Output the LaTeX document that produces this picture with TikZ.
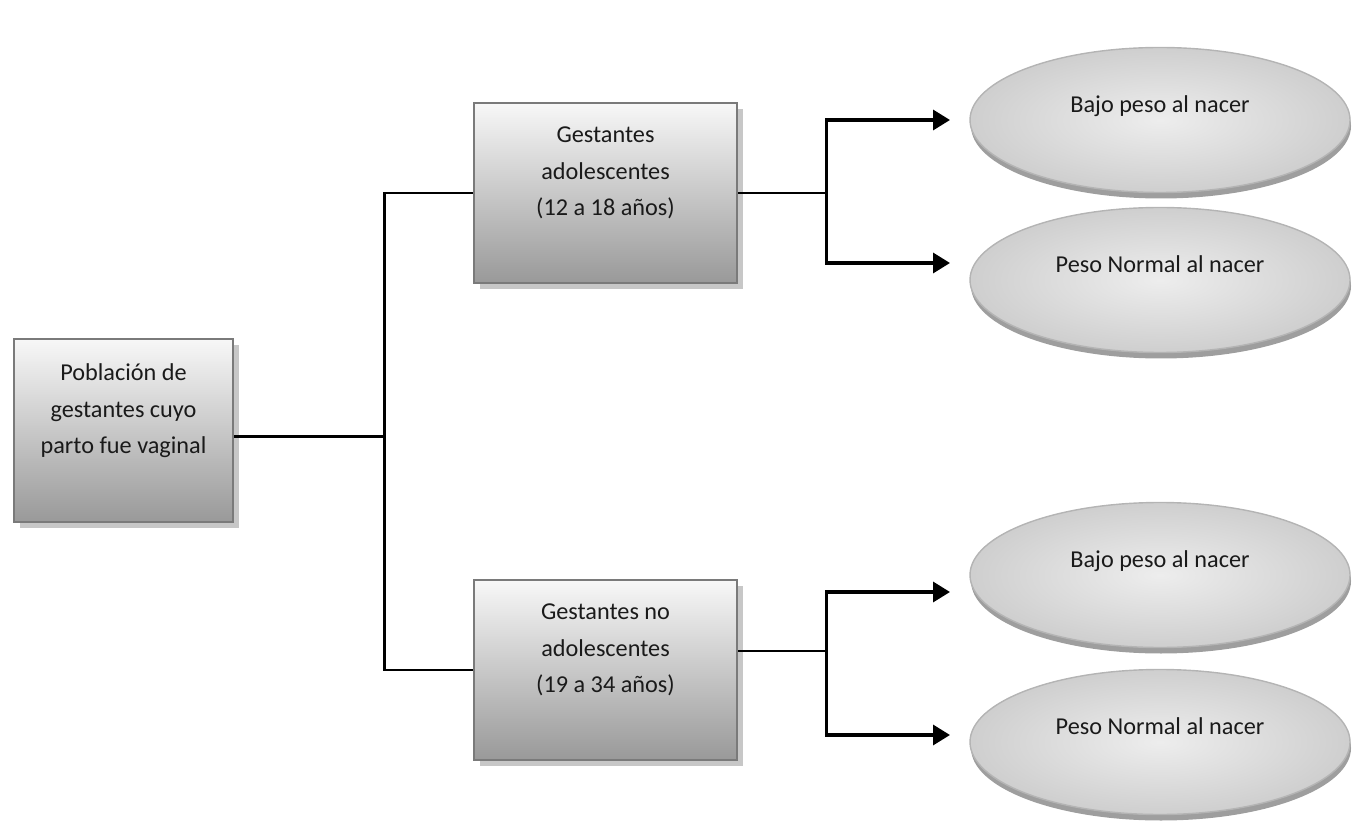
\documentclass[tikz,border=0pt]{standalone}
\usepackage{fontspec}
\setmainfont{Carlito}
\usetikzlibrary{shapes.geometric,shadows,arrows.meta}
\definecolor{boxline}{HTML}{7A7A7A}
\definecolor{ovalline}{HTML}{B4B4B4}
\definecolor{txt}{HTML}{1A1A1A}

\begin{document}
\begin{tikzpicture}
 [font=\fontsize{6.9pt}{10.4pt}\selectfont, text=txt,
  grupo/.style={draw=boxline, line width=0.8pt, top color=black!3, bottom color=black!40,
    minimum width=2.63cm, minimum height=1.80cm, align=center, text depth=12.4pt,
    execute at begin node={\setlength{\baselineskip}{10.4pt}},
    drop shadow={shadow xshift=0.06cm, shadow yshift=-0.06cm, fill=black!22, opacity=1}},
  peso/.style={ellipse, draw=ovalline, line width=0.4pt, inner color=black!7, outer color=black!19,
    minimum width=3.80cm, minimum height=1.45cm, text height=5.2pt, text depth=9.6pt,
    drop shadow={shadow xshift=0.01cm, shadow yshift=-0.06cm, fill=black!38, opacity=1}},
  linea/.style={line width=0.75pt},
  flecha/.style={line width=0.95pt, -{Triangle[length=0.17cm,width=0.2cm]}}]

  \useasboundingbox (0,0) rectangle (13.57,-8.29);

  % cajas
  \node[grupo, minimum width=2.19cm, minimum height=1.83cm] (pob) at (1.235,-4.305)
    {Población de\\gestantes cuyo\\parto fue vaginal};
  \node[grupo] (ado) at (6.055,-1.93) {Gestantes\\adolescentes\\(12 a 18 años)};
  \node[grupo] (noado) at (6.055,-6.70) {Gestantes no\\adolescentes\\(19 a 34 años)};

  % resultados
  \node[peso] (b1) at (11.60,-1.20) {Bajo peso al nacer};
  \node[peso] (n1) at (11.60,-2.80) {Peso Normal al nacer};
  \node[peso] (b2) at (11.60,-5.75) {Bajo peso al nacer};
  \node[peso] (n2) at (11.60,-7.42) {Peso Normal al nacer};

  \coordinate (t1) at (9.50,-1.20);
  \coordinate (t2) at (9.50,-2.63);
  \coordinate (t3) at (9.50,-5.92);
  \coordinate (t4) at (9.50,-7.35);

  % conectores
  \draw[linea] ([yshift=-0.06cm]pob.east) -- ++(1.50,0) coordinate (j0);
  \draw[linea] (ado.west) -| (j0) |- (noado.west);

  \draw[linea] (ado.east) -- ++(0.88,0) coordinate (j1);
  \draw[flecha] (j1) |- (t1);
  \draw[flecha] (j1) |- (t2);

  \draw[linea] ([yshift=0.19cm]noado.east) -- ++(0.88,0) coordinate (j2);
  \draw[flecha] (j2) |- (t3);
  \draw[flecha] (j2) |- (t4);

\end{tikzpicture}
\end{document}
